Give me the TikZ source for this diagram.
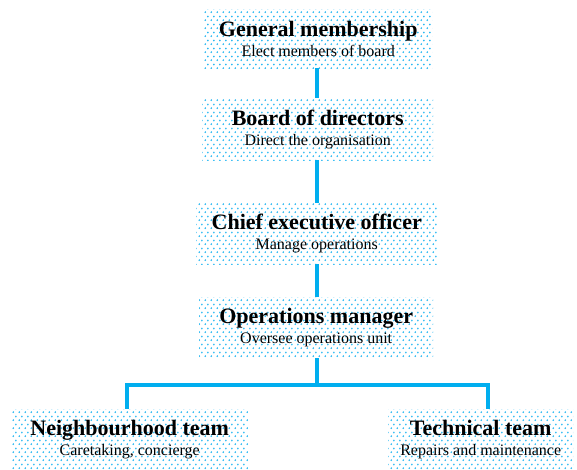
\documentclass[tikz,border=0pt]{standalone}
\usepackage{fontspec}
\setmainfont{Liberation Serif}
\usetikzlibrary{patterns}
\definecolor{linecol}{HTML}{00AEEF}
\definecolor{dotcol}{HTML}{2BB8F2}
\pgfdeclarepatternformonly{bluedots}{\pgfqpoint{0pt}{0pt}}{\pgfqpoint{6pt}{8pt}}{\pgfqpoint{6pt}{8pt}}{%
  \pgfpathcircle{\pgfqpoint{1.5pt}{2pt}}{1.1pt}%
  \pgfpathcircle{\pgfqpoint{4.5pt}{6pt}}{1.1pt}%
  \pgfusepath{fill}}
\newcommand{\boxtext}[2]{{\bfseries\fontsize{22}{20}\selectfont #1}\\{\fontsize{16}{20}\selectfont #2}}
\tikzset{
  orgbox/.style={pattern=bluedots, pattern color=dotcol, inner sep=0pt, align=center, anchor=north west, font=\fontsize{16}{20}\selectfont},
  conn/.style={draw=linecol, line width=3.5pt, line join=miter}
}
\begin{document}
\begin{tikzpicture}[x=1pt,y=1pt]
\useasboundingbox (0,0) rectangle (577,470);
\node[orgbox, minimum width=228pt, minimum height=59pt] (b1) at (204,461) {\boxtext{General membership}{Elect members of board}};
\node[orgbox, minimum width=231pt, minimum height=62pt] (b2) at (202,372) {\boxtext{Board of directors}{Direct the organisation}};
\node[orgbox, minimum width=241pt, minimum height=61pt] (b3) at (196,267) {\boxtext{Chief executive officer}{Manage operations}};
\node[orgbox, minimum width=234pt, minimum height=61pt] (b4) at (199,173) {\boxtext{Operations manager}{Oversee operations unit}};
\node[orgbox, minimum width=237pt, minimum height=61pt] (b5) at (11,61) {\boxtext{Neighbourhood team}{Caretaking, concierge}};
\node[orgbox, minimum width=185pt, minimum height=61pt] (b6) at (388,61) {\boxtext{Technical team}{Repairs and maintenance}};
\coordinate (sp) at (317,0);
\coordinate (jl) at (127,85);
\coordinate (jr) at (488,85);
\draw[conn] (sp |- b1.south) -- (sp |- b2.north);
\draw[conn] (sp |- b2.south) -- (sp |- b3.north);
\draw[conn] (sp |- b3.south) -- (sp |- b4.north);
\draw[conn] (sp |- b4.south) -- (sp |- jl);
\draw[conn] (jl |- b5.north) -- (jl) -- (jr) -- (jr |- b6.north);
\end{tikzpicture}
\end{document}
